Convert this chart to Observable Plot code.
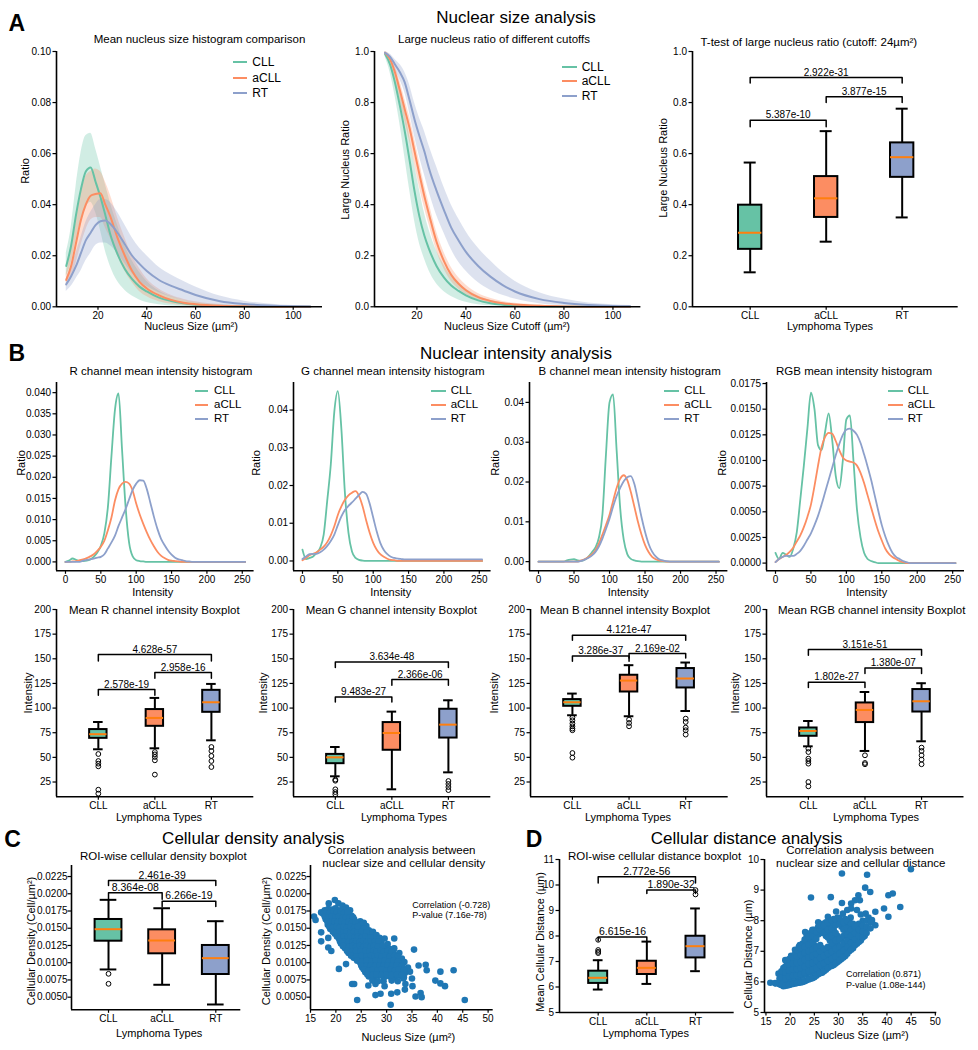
<!DOCTYPE html>
<html><head><meta charset="utf-8">
<script src="https://cdn.jsdelivr.net/npm/d3@7"></script>
<script src="https://cdn.jsdelivr.net/npm/@observablehq/plot@0.6"></script>
<style>
body{margin:0;background:#fff;}
#fig{position:relative;width:978px;height:1050px;font-family:"Liberation Sans",Arial,sans-serif;color:#000;overflow:hidden;background:#fff;}
.t{position:absolute;white-space:nowrap;transform:translate(-50%,-50%);line-height:1;}
.p{position:absolute;}
.p svg{overflow:visible;max-width:none;}
</style></head><body><div id="fig"></div>
<script>
const FONT = '"Liberation Sans", Arial, sans-serif';
const types = ["CLL", "aCLL", "RT"];
const colors = ["#66c2a5", "#fc8d62", "#8da0cb"];
const medianColor = "#ff7f0e";
const dotColor = "#1f77b4";

// ---------- A: nucleus size curves ----------
const sizeGrid = [7,9,11,13,15,17,19,21,23,25,28,31,34,37,40,45,50,55,60,70,80,90,100,107];
const histCLL = [0.016,0.024,0.036,0.046,0.053,0.0546,0.049,0.043,0.036,0.0285,0.0206,0.0148,0.0108,0.0079,0.006,0.0036,0.0023,0.0014,0.0008,0.0003,0.0001,0,0,0];
const histCLLlo = [0.012,0.017,0.026,0.034,0.039,0.041,0.037,0.030,0.022,0.016,0.010,0.0065,0.0042,0.0027,0.0017,0.0008,0.0003,0.0001,0,0,0,0,0,0];
const histCLLhi = [0.021,0.031,0.047,0.060,0.067,0.068,0.062,0.055,0.048,0.041,0.032,0.024,0.018,0.0135,0.010,0.0062,0.0040,0.0025,0.0016,0.0007,0.0003,0.0001,0,0];
const histACLL = [0.0105,0.016,0.025,0.034,0.040,0.0435,0.0442,0.0445,0.040,0.0355,0.027,0.020,0.014,0.0098,0.0072,0.0045,0.0027,0.0016,0.0010,0.0004,0.0002,0.0001,0,0];
const histACLLlo = [0.008,0.011,0.017,0.024,0.030,0.034,0.035,0.035,0.031,0.027,0.020,0.014,0.0095,0.006,0.004,0.002,0.001,0.0005,0.0002,0,0,0,0,0];
const histACLLhi = [0.013,0.022,0.033,0.044,0.051,0.053,0.054,0.053,0.049,0.044,0.035,0.027,0.020,0.015,0.011,0.007,0.0045,0.003,0.002,0.0009,0.0004,0.0002,0.0001,0];
const histRT = [0.0088,0.012,0.016,0.021,0.026,0.029,0.032,0.0335,0.0338,0.0325,0.029,0.0245,0.020,0.0168,0.014,0.0105,0.0082,0.0064,0.0046,0.0022,0.0011,0.0005,0.0002,0.0001];
const histRTlo = [0.006,0.008,0.011,0.014,0.018,0.021,0.024,0.025,0.025,0.024,0.021,0.017,0.013,0.010,0.008,0.0055,0.0038,0.0025,0.0015,0.0006,0.0002,0.0001,0,0];
const histRThi = [0.011,0.016,0.021,0.027,0.033,0.037,0.040,0.042,0.042,0.041,0.037,0.032,0.027,0.023,0.020,0.0155,0.0125,0.010,0.0078,0.0042,0.0022,0.0011,0.0005,0.0003];

const ratioCLL = [0.99,0.95,0.88,0.79,0.69,0.575,0.455,0.355,0.28,0.225,0.16,0.115,0.083,0.062,0.045,0.025,0.014,0.008,0.004,0.0015,0.0005,0,0,0];
const ratioCLLlo = [0.98,0.92,0.83,0.72,0.59,0.46,0.34,0.25,0.19,0.14,0.09,0.06,0.04,0.027,0.018,0.008,0.004,0.002,0.001,0,0,0,0,0];
const ratioCLLhi = [1.0,0.97,0.92,0.85,0.77,0.67,0.56,0.46,0.37,0.30,0.22,0.165,0.12,0.09,0.07,0.042,0.025,0.016,0.01,0.005,0.003,0.002,0.001,0.001];
const ratioACLL = [0.995,0.97,0.92,0.85,0.775,0.70,0.61,0.52,0.435,0.36,0.255,0.18,0.125,0.09,0.065,0.038,0.023,0.014,0.009,0.004,0.0015,0.0005,0.0002,0];
const ratioACLLlo = [0.99,0.95,0.89,0.81,0.73,0.65,0.56,0.47,0.39,0.32,0.22,0.15,0.10,0.07,0.048,0.026,0.015,0.008,0.005,0.002,0.0005,0,0,0];
const ratioACLLhi = [1.0,0.985,0.945,0.885,0.815,0.745,0.66,0.57,0.48,0.405,0.295,0.215,0.155,0.115,0.085,0.052,0.033,0.021,0.014,0.007,0.003,0.001,0.0005,0.0002];
const ratioRT = [0.995,0.98,0.95,0.92,0.88,0.81,0.735,0.67,0.61,0.54,0.455,0.38,0.31,0.26,0.215,0.16,0.118,0.085,0.06,0.03,0.015,0.007,0.003,0.002];
const ratioRTlo = [0.99,0.97,0.93,0.89,0.84,0.76,0.67,0.59,0.52,0.45,0.36,0.29,0.225,0.175,0.14,0.095,0.065,0.045,0.03,0.012,0.005,0.002,0.001,0];
const ratioRThi = [1.0,0.99,0.97,0.95,0.92,0.87,0.80,0.74,0.69,0.63,0.55,0.47,0.40,0.345,0.295,0.23,0.18,0.135,0.10,0.055,0.03,0.015,0.008,0.005];

// A3 boxplot: [whisker low, q1, median, q3, whisker high]
const ttestStats = [[0.135,0.225,0.290,0.398,0.565],[0.255,0.350,0.425,0.510,0.688],[0.350,0.507,0.586,0.642,0.776]];
const ttestOutliers = [[],[],[]];
const ttestBrackets = [[0,1,0.731,0.705,"5.387e-10"],[1,2,0.823,0.800,"3.877e-15"],[0,2,0.898,0.877,"2.922e-31"]];

// ---------- B: intensity histograms ----------
const intGrid = [0,5,10,15,20,25,30,35,40,45,50,55,60,65,70,75,80,85,90,95,100,105,110,115,120,125,130,135,140,145,150,155,160,165,170,175,180,185,190,195,200,254];
const rCLL = [0,0.0003,0.0008,0.0005,0.0002,0.0002,0.0003,0.0006,0.0012,0.0022,0.0038,0.0068,0.013,0.025,0.036,0.0398,0.0265,0.013,0.0045,0.0013,0.0004,0.0002,0.0001,0,0,0,0,0,0,0,0,0,0,0,0,0,0,0,0,0,0,0];
const rACLL = [0,0,0.0001,0.0002,0.0004,0.0006,0.0009,0.0013,0.0018,0.0026,0.0036,0.005,0.0075,0.0105,0.0145,0.0172,0.0185,0.0189,0.0185,0.0168,0.0138,0.0112,0.009,0.007,0.0052,0.0037,0.0024,0.0015,0.0009,0.0005,0.0003,0.0002,0.0001,0,0,0,0,0,0,0,0,0];
const rRT = [0,0,0,0,0,0.0003,0.0005,0.0006,0.0008,0.001,0.0012,0.0018,0.0032,0.0046,0.0062,0.0085,0.0105,0.0125,0.0148,0.017,0.0185,0.0193,0.0192,0.0172,0.014,0.0107,0.0078,0.0055,0.004,0.0027,0.0017,0.001,0.0006,0.0004,0.0002,0.0001,0,0,0,0,0,0];
const gCLL = [0.003,0.0005,0.0008,0.0012,0.0022,0.0035,0.007,0.016,0.0255,0.0395,0.045,0.035,0.018,0.0075,0.0025,0.0008,0.0003,0.0001,0,0,0,0,0,0,0,0,0,0,0,0,0,0,0,0,0,0,0,0,0,0,0,0];
const gACLL = [0.0002,0.0008,0.0015,0.0019,0.0023,0.003,0.0038,0.005,0.0068,0.0092,0.0122,0.0145,0.0162,0.0174,0.0181,0.0185,0.0172,0.0145,0.0108,0.0075,0.0048,0.003,0.0018,0.0011,0.0006,0.0003,0.0002,0,0,0,0,0,0,0,0,0,0,0,0,0,0,0];
const gRT = [0.0005,0.0012,0.0018,0.0019,0.0019,0.0023,0.003,0.004,0.0053,0.007,0.0095,0.0118,0.0135,0.0146,0.0155,0.0165,0.0175,0.0183,0.0178,0.0152,0.0115,0.0078,0.0048,0.0029,0.0018,0.0011,0.0008,0.0006,0.0005,0.0004,0.0004,0.0004,0.0004,0.0004,0.0004,0.0004,0.0004,0.0004,0.0004,0.0004,0.0004,0.0004];
const bCLL = [0,0,0,0,0,0,0,0,0.0003,0.0005,0.0006,0.0003,0.0002,0.0005,0.0012,0.0023,0.0035,0.006,0.0118,0.027,0.040,0.042,0.028,0.0135,0.0055,0.0019,0.0007,0.0003,0.0001,0,0,0,0,0,0,0,0,0,0,0,0,0];
const bACLL = [0,0,0,0,0,0,0,0,0,0,0,0,0.0003,0.0006,0.0011,0.0018,0.0028,0.0045,0.0068,0.0092,0.0118,0.0152,0.0185,0.0208,0.0217,0.0205,0.0175,0.0138,0.01,0.0068,0.0042,0.0024,0.0012,0.0006,0.0003,0.0001,0,0,0,0,0,0];
const bRT = [0,0,0,0,0,0,0,0,0,0,0,0,0.0002,0.0005,0.0009,0.0015,0.0024,0.0038,0.0058,0.0082,0.0108,0.0138,0.0165,0.0185,0.0202,0.0212,0.0215,0.0195,0.0155,0.0112,0.0075,0.0045,0.0025,0.0013,0.0006,0.0003,0.0001,0,0,0,0,0];
const rgbCLL = [0.001,0.0004,0.001,0.0008,0.0006,0.0014,0.003,0.0062,0.0095,0.0131,0.0166,0.015,0.0115,0.011,0.0128,0.0146,0.012,0.0085,0.0073,0.01,0.014,0.0144,0.01,0.0052,0.0025,0.001,0.0004,0.0002,0.0001,0,0,0,0,0,0,0,0,0,0,0,0,0];
const rgbACLL = [0.0001,0.0004,0.0006,0.0008,0.0011,0.0015,0.0021,0.0027,0.0035,0.0045,0.0057,0.0075,0.0095,0.0113,0.0123,0.0127,0.0126,0.0119,0.011,0.0103,0.01,0.0099,0.0098,0.0095,0.0088,0.0078,0.0066,0.0054,0.0042,0.0031,0.0022,0.0014,0.0009,0.0006,0.0004,0.0002,0.0001,0,0,0,0,0];
const rgbRT = [0.0001,0.0004,0.0006,0.0007,0.0007,0.0007,0.0009,0.0012,0.0017,0.0023,0.0029,0.0037,0.0046,0.0057,0.0069,0.0081,0.0093,0.0105,0.0116,0.0125,0.013,0.0131,0.0129,0.0125,0.0117,0.0106,0.0094,0.0081,0.0066,0.0051,0.0037,0.0026,0.0017,0.001,0.0006,0.0004,0.0002,0.0001,0,0,0,0];

// B boxplots
const rStats = [[58.2,69.3,73.5,78.2,85.9],[59.2,81.5,90,98.5,110.3],[67.3,95.7,105.9,118,124.5]];
const rOutliers = [[53.4,46.3,43.6,40.9,17.2,13.2],[55.4,53,50.4,47,32.5],[60.5,56.5,51.4,46.3,40.2]];
const rBrackets = [[0,1,118.8,113,"2.578e-19"],[1,2,136,130.3,"2.958e-16"],[0,2,154.3,147.8,"4.628e-57"]];
const gStats = [[30.8,43.6,50,53,60.5],[17.6,57.2,74.7,85.3,96.4],[34.8,69.6,83.2,98.8,107.9]];
const gOutliers = [[27.4,26.3,17.6,14.8,12.5],[],[26,23,19.9,16.8]];
const gBrackets = [[0,1,111.3,106.2,"9.483e-27"],[1,2,128.9,123.1,"2.366e-06"],[0,2,146.8,141.1,"3.634e-48"]];
const bStats = [[92.7,101.8,105.9,108.6,114.7],[91.7,116.3,127.9,133.3,143.5],[97,120.4,130,140.1,146.2]];
const bOutliers = [[90.3,87.6,84.3,81.5,79.2,77.5,54.4,49.7],[88.3,84.9,81.5],[89.3,85.9,80.2,77.5,73.1]];
const bBrackets = [[0,1,152.9,147.5,"3.286e-37"],[1,2,155.3,150.9,"2.169e-02"],[0,2,173.9,168.8,"4.121e-47"]];
const rgbStats = [[61.2,71.4,76.8,79.8,86.9],[56.5,85.3,98.1,105.2,116.3],[66.3,96,106.9,118.8,125.2]];
const rgbOutliers = [[58.9,55.4,48.7,46.3,43.6,25,20.6],[52.1,44.3,43],[59.9,56.5,52.1,47.7,43]];
const rgbBrackets = [[0,1,126.2,120.8,"1.802e-27"],[1,2,140.7,135,"1.380e-07"],[0,2,159.4,153.6,"3.151e-51"]];

// ---------- C / D ----------
const densStats = [[0.00902,0.01312,0.01486,0.01627,0.01912],[0.0068,0.01129,0.01322,0.01477,0.0179],[0.00394,0.00829,0.01066,0.0125,0.01602]];
const densOutliers = [[0.00839,0.00694],[],[]];
const densBrackets = [[0,1,0.02014,0.01921,"8.364e-08"],[1,2,0.01892,0.01815,"6.266e-19"],[0,2,0.02192,0.0212,"2.461e-39"]];
const distStats = [[5.9,6.14,6.36,6.62,7.05],[6.12,6.49,6.75,7.01,7.78],[6.62,7.14,7.6,7.99,9.08]];
const distOutliers = [[7.85,7.45,7.38,7.33],[],[9.8,9.63]];
const distBrackets = [[0,1,7.96,7.8,"6.615e-16"],[1,2,9.8,9.67,"1.890e-32"],[0,2,10.32,10.08,"2.772e-56"]];

// nucleus size vs cellular density (µm², cell/µm²)
const densityPoints = [
[15.7,0.0167],[16.0,0.0162],[17.1,0.0173],[18.6,0.0186],[19.8,0.0191],[17.1,0.0144],[18.5,0.0136],[17.1,0.0131],[18.5,0.0122],[19.1,0.0117],
[20.6,0.0091],[22.0,0.0098],[23.2,0.0069],[23.6,0.0069],[24.2,0.0046],[26.4,0.0067],[27.8,0.0069],[27.8,0.0053],[28.8,0.0055],[30.8,0.0039],
[30.9,0.0055],[29.6,0.0066],[29.4,0.0073],[31.1,0.0079],[32.1,0.0057],[33.6,0.0061],[33.7,0.0069],[35.1,0.0066],[33.3,0.0077],[35.0,0.0077],
[35.7,0.0051],[36.7,0.0056],[36.9,0.005],[35.4,0.0119],[36.3,0.0096],[37.7,0.0097],[37.9,0.0089],[39.6,0.0074],[40.6,0.007],[41.5,0.0066],
[40.6,0.0087],[43.2,0.0089],[45.4,0.0046],[31.5,0.0135],[31.4,0.012],
[20.5,0.0186],[21.3,0.0183],[22.0,0.0180],
[17.8,0.0176],[18.5,0.0178],[19.2,0.0177],[19.9,0.0179],[20.6,0.0176],[21.4,0.0177],[22.1,0.0175],[22.8,0.0176],
[17.5,0.0171],[18.2,0.0169],[18.9,0.0171],[19.6,0.017],[20.3,0.0169],[21.0,0.0171],[21.7,0.0169],[22.4,0.017],[23.1,0.0168],
[18.0,0.0163],[18.7,0.0162],[19.4,0.0164],[20.1,0.0162],[20.8,0.0163],[21.5,0.0161],[22.2,0.0163],[22.9,0.0162],[23.6,0.0163],[24.8,0.016],[25.5,0.0158],
[18.4,0.0155],[19.1,0.0157],[19.8,0.0155],[20.5,0.0156],[21.2,0.0155],[21.9,0.0157],[22.6,0.0155],[23.3,0.0156],[24.0,0.0154],[25.0,0.0155],[26.0,0.0153],
[18.9,0.0149],[19.6,0.0148],[20.3,0.015],[21.0,0.0148],[21.7,0.0149],[22.4,0.0148],[23.1,0.015],[23.8,0.0148],[24.5,0.0149],[26.5,0.0147],[27.3,0.0145],
[19.8,0.0142],[20.5,0.0141],[21.2,0.0143],[21.9,0.0141],[22.6,0.0142],[23.3,0.0141],[24.0,0.0143],[24.7,0.0141],[25.4,0.0142],[27.0,0.0141],[28.0,0.014],
[20.6,0.0135],[21.3,0.0134],[22.0,0.0136],[22.7,0.0134],[23.4,0.0135],[24.1,0.0134],[24.8,0.0136],[25.5,0.0134],[26.2,0.0135],[27.6,0.0134],[28.6,0.0136],[29.6,0.0135],
[21.0,0.0128],[22.3,0.0127],[23.0,0.0129],[23.7,0.0127],[24.4,0.0128],[25.1,0.0127],[25.8,0.0129],[26.5,0.0127],[27.2,0.0128],[28.0,0.0127],[29.0,0.0129],[30.2,0.0127],
[21.8,0.0121],[22.9,0.012],[23.6,0.0122],[24.3,0.012],[25.0,0.0121],[25.7,0.012],[26.4,0.0122],[27.1,0.012],[27.8,0.0121],[28.6,0.012],[29.4,0.0122],[30.5,0.012],[31.5,0.0121],
[22.5,0.0114],[23.4,0.0113],[24.5,0.0115],[25.4,0.0113],[26.3,0.0114],[27.0,0.0113],[27.7,0.0115],[28.4,0.0113],[29.1,0.0114],[29.8,0.0113],[30.6,0.0115],[31.4,0.0113],[32.5,0.0114],
[23.5,0.0107],[24.6,0.0106],[25.6,0.0108],[26.5,0.0106],[27.3,0.0107],[28.0,0.0106],[28.7,0.0108],[29.4,0.0106],[30.2,0.0107],[31.0,0.0106],[31.9,0.0108],[33.0,0.0106],
[24.8,0.01],[25.8,0.0099],[26.7,0.0101],[27.5,0.0099],[28.4,0.01],[29.2,0.0099],[30.0,0.0101],[30.8,0.0099],[31.7,0.01],[32.6,0.0099],[33.5,0.0101],
[25.2,0.0093],[26.2,0.0092],[27.0,0.0094],[27.8,0.0092],[28.7,0.0093],[29.6,0.0092],[30.4,0.0094],[31.2,0.0092],[32.0,0.0093],[33.0,0.0092],[34.2,0.0093],
[25.8,0.0086],[26.8,0.0085],[27.6,0.0087],[28.5,0.0085],[29.4,0.0086],[30.3,0.0085],[31.0,0.0087],[31.8,0.0085],[32.7,0.0086],[33.6,0.0085],[34.6,0.0087],
[26.5,0.008],[27.5,0.0079],[28.5,0.0081],[29.5,0.0079],[30.6,0.008],[31.6,0.0079],[32.5,0.0081],[33.4,0.0079],
[27.2,0.0074],[28.3,0.0073],[31.0,0.0074],[32.2,0.0073],
[18.1,0.0174],[18.8,0.0173],[19.5,0.0174],[20.2,0.0173],[20.9,0.0174],[21.6,0.0172],[22.3,0.0173],
[17.8,0.0167],[18.5,0.0166],[19.2,0.0167],[19.9,0.0166],[20.6,0.0167],[21.3,0.0165],[22.0,0.0166],[22.7,0.0165],[23.4,0.0166],
[18.3,0.016],[19.0,0.0159],[19.7,0.016],[20.4,0.0159],[21.1,0.016],[21.8,0.0158],[22.5,0.0159],[23.2,0.0158],[23.9,0.0159],
[18.7,0.0152],[19.4,0.0151],[20.1,0.0152],[20.8,0.0151],[21.5,0.0152],[22.2,0.0151],[22.9,0.0152],[23.6,0.0151],[24.3,0.0152],[25.5,0.015],
[19.4,0.0145],[20.1,0.0144],[20.8,0.0145],[21.5,0.0144],[22.2,0.0145],[22.9,0.0144],[23.6,0.0145],[24.3,0.0144],[25.0,0.0145],[26.0,0.0144],
[20.2,0.0138],[20.9,0.0137],[21.6,0.0138],[22.3,0.0137],[23.0,0.0138],[23.7,0.0137],[24.4,0.0138],[25.1,0.0137],[25.8,0.0138],[26.8,0.0137],
[20.8,0.0131],[21.6,0.013],[22.6,0.0131],[23.3,0.013],[24.0,0.0131],[24.7,0.013],[25.4,0.0131],[26.1,0.013],[26.8,0.0131],[27.6,0.013],[28.4,0.0131],
[21.4,0.0124],[22.6,0.0123],[23.3,0.0124],[24.0,0.0123],[24.7,0.0124],[25.4,0.0123],[26.1,0.0124],[26.8,0.0123],[27.5,0.0124],[28.3,0.0123],[29.2,0.0124],
[22.2,0.0117],[23.2,0.0116],[24.0,0.0117],[24.9,0.0116],[25.8,0.0117],[26.6,0.0116],[27.4,0.0117],[28.1,0.0116],[28.8,0.0117],[29.5,0.0116],[30.2,0.0117],[31.0,0.0116],
[23.0,0.011],[24.0,0.0109],[25.0,0.011],[26.0,0.0109],[26.9,0.011],[27.6,0.0109],[28.3,0.011],[29.0,0.0109],[29.8,0.011],[30.6,0.0109],[31.5,0.011],[32.2,0.0109],
[24.2,0.0103],[25.2,0.0102],[26.1,0.0103],[27.0,0.0102],[27.9,0.0103],[28.8,0.0102],[29.6,0.0103],[30.5,0.0102],[31.4,0.0103],[32.2,0.0102],
[25.0,0.0096],[26.0,0.0095],[26.9,0.0096],[27.7,0.0095],[28.6,0.0096],[29.4,0.0095],[30.2,0.0096],[31.1,0.0095],[32.0,0.0096],[33.0,0.0095],
[25.5,0.009],[26.5,0.0089],[27.3,0.009],[28.2,0.0089],[29.1,0.009],[30.0,0.0089],[30.8,0.009],[31.6,0.0089],[32.4,0.009],[33.4,0.0089],
[26.2,0.0083],[27.2,0.0082],[28.0,0.0083],[29.0,0.0082],[30.0,0.0083],[31.0,0.0082],[32.0,0.0083],[33.0,0.0082]
];

// nucleus size vs cellular distance (µm², µm)
const distancePoints = [
[30.7,9.54],[35.9,9.5],[44.95,9.68],[24.3,8.76],[28.4,8.77],[30.7,8.58],[27.8,8.13],[30.9,8.23],[35.5,9.08],[36.55,8.94],
[34.1,8.83],[34.4,8.67],[33.4,8.67],[32.6,8.56],[32.6,8.4],[40.3,8.83],[41.2,8.89],[42.75,8.45],[39.4,8.4],[40.3,8.13],
[37.6,8.29],[37.6,7.85],[36.9,7.96],[35.6,8.23],[36.2,8.1],[36.9,8.02],[34.6,8.2],[33.8,8.35],[35.0,8.0],[34.2,7.9],
[15.9,5.97],[16.9,5.96],[17.6,6.27],[19.0,6.71],[18.8,6.44],[20.7,6.82],[23.1,7.63],[24.8,7.68],[25.8,7.95],[26.8,7.9],
[22.0,7.2],[21.0,7.05],[29.5,8.3],[31.8,8.35],[32.5,8.1],
[17.0,5.95],[17.8,5.92],[17.8,6.1],
[18.6,5.86],[18.6,6.05],[18.6,6.25],[18.6,6.45],
[19.4,5.88],[19.4,6.05],[19.4,6.22],[19.4,6.4],[19.4,6.6],
[20.2,5.92],[20.2,6.1],[20.2,6.28],[20.2,6.46],[20.2,6.66],[20.2,6.85],
[21.0,5.95],[21.0,6.12],[21.0,6.3],[21.0,6.5],[21.0,6.7],[21.0,6.9],
[21.8,5.97],[21.8,6.15],[21.8,6.35],[21.8,6.55],[21.8,6.75],[21.8,6.95],[21.8,7.15],
[22.6,6.0],[22.6,6.2],[22.6,6.4],[22.6,6.6],[22.6,6.8],[22.6,7.0],[22.6,7.25],
[23.4,6.05],[23.4,6.25],[23.4,6.45],[23.4,6.65],[23.4,6.85],[23.4,7.05],[23.4,7.3],[23.4,7.5],
[24.2,6.1],[24.2,6.3],[24.2,6.5],[24.2,6.7],[24.2,6.9],[24.2,7.1],[24.2,7.35],[24.2,7.6],
[25.0,6.15],[25.0,6.35],[25.0,6.55],[25.0,6.75],[25.0,6.95],[25.0,7.2],[25.0,7.45],[25.0,7.7],
[25.8,6.25],[25.8,6.45],[25.8,6.65],[25.8,6.85],[25.8,7.05],[25.8,7.55],[25.8,7.8],
[26.6,6.3],[26.6,6.5],[26.6,6.7],[26.6,6.9],[26.6,7.1],[26.6,7.6],[26.6,7.85],
[27.4,6.4],[27.4,6.6],[27.4,6.8],[27.4,7.0],[27.4,7.5],[27.4,7.75],[27.4,7.95],
[28.2,6.5],[28.2,6.7],[28.2,6.9],[28.2,7.1],[28.2,7.35],[28.2,7.6],[28.2,7.85],[28.2,8.0],
[29.0,6.55],[29.0,6.75],[29.0,6.95],[29.0,7.2],[29.0,7.45],[29.0,7.7],[29.0,7.9],[29.0,8.05],
[29.8,6.65],[29.8,6.85],[29.8,7.05],[29.8,7.3],[29.8,7.5],[29.8,7.95],[29.8,8.1],
[30.6,6.75],[30.6,6.95],[30.6,7.15],[30.6,7.4],[30.6,7.8],[30.6,8.0],
[31.4,6.85],[31.4,7.05],[31.4,7.25],[31.4,7.5],[31.4,7.7],[31.4,7.9],[31.4,8.05],
[32.2,7.0],[32.2,7.2],[32.2,7.4],[32.2,7.6],[32.2,7.8],[32.2,7.95],
[33.0,7.1],[33.0,7.3],[33.0,7.5],[33.0,7.7],[33.0,7.9],
[33.8,7.25],[33.8,7.45],[33.8,7.65],[33.8,7.85],
[34.6,7.35],[34.6,7.55],[34.6,7.75],
[35.4,7.5],[35.4,7.7],
[18.2,5.9],[18.2,6.15],[18.2,6.35],
[19.0,5.87],[19.0,6.12],[19.0,6.3],[19.0,6.5],
[19.8,5.9],[19.8,6.18],[19.8,6.37],[19.8,6.56],[19.8,6.75],
[20.6,5.93],[20.6,6.2],[20.6,6.4],[20.6,6.6],[20.6,6.8],
[21.4,5.96],[21.4,6.22],[21.4,6.42],[21.4,6.62],[21.4,6.82],[21.4,7.02],
[22.2,5.98],[22.2,6.25],[22.2,6.45],[22.2,6.65],[22.2,6.88],[22.2,7.1],
[23.0,6.02],[23.0,6.3],[23.0,6.5],[23.0,6.72],[23.0,6.95],[23.0,7.15],[23.0,7.38],
[23.8,6.08],[23.8,6.35],[23.8,6.58],[23.8,6.8],[23.8,7.0],[23.8,7.22],[23.8,7.48],
[24.6,6.12],[24.6,6.4],[24.6,6.62],[24.6,6.85],[24.6,7.05],[24.6,7.28],[24.6,7.52],[24.6,7.7],
[25.4,6.2],[25.4,6.45],[25.4,6.7],[25.4,6.9],[25.4,7.12],[25.4,7.4],[25.4,7.65],
[26.2,6.28],[26.2,6.55],[26.2,6.78],[26.2,7.0],[26.2,7.2],[26.2,7.7],[26.2,7.85],
[27.0,6.35],[27.0,6.6],[27.0,6.85],[27.0,7.08],[27.0,7.6],[27.0,7.85],
[27.8,6.45],[27.8,6.68],[27.8,6.92],[27.8,7.15],[27.8,7.45],[27.8,7.7],[27.8,7.95],
[28.6,6.52],[28.6,6.75],[28.6,7.0],[28.6,7.25],[28.6,7.5],[28.6,7.75],[28.6,8.0],
[29.4,6.6],[29.4,6.82],[29.4,7.08],[29.4,7.35],[29.4,7.6],[29.4,7.85],[29.4,8.05],
[30.2,6.7],[30.2,6.92],[30.2,7.15],[30.2,7.4],[30.2,7.9],[30.2,8.08],
[31.0,6.8],[31.0,7.02],[31.0,7.25],[31.0,7.5],[31.0,7.7],[31.0,7.95],
[31.8,6.92],[31.8,7.15],[31.8,7.35],[31.8,7.55],[31.8,7.75],[31.8,7.98],
[32.6,7.05],[32.6,7.28],[32.6,7.5],[32.6,7.7],[32.6,7.9],
[33.4,7.2],[33.4,7.4],[33.4,7.6],[33.4,7.8],
[34.2,7.3],[34.2,7.5],[34.2,7.7],
[35.0,7.45],[35.0,7.65],[35.0,7.85],
[35.8,7.6],[35.8,7.8],[35.8,8.0],
[36.6,7.75],[36.6,7.95]
];

// tick labels
const sizeTicks = [20,40,60,80,100];
const histRatioTicks = [0,0.02,0.04,0.06,0.08,0.10];
const unitTicks = [0,0.2,0.4,0.6,0.8,1.0];
const intensityTicks = [0,50,100,150,200,250];
const rRatioTicks = [0,0.005,0.01,0.015,0.02,0.025,0.03,0.035,0.04];
const gbRatioTicks = [0,0.01,0.02,0.03,0.04];
const rgbRatioTicks = [0,0.0025,0.005,0.0075,0.01,0.0125,0.015,0.0175];
const boxIntensityTicks = [25,50,75,100,125,150,175,200];
const densityTicks = [0.005,0.0075,0.01,0.0125,0.015,0.0175,0.02,0.0225];
const distBoxTicks = [5,6,7,8,9,10,11];
const distScatterTicks = [5,6,7,8,9,10];
const nucleusTicks = [15,20,25,30,35,40,45,50];

// ---------- helpers ----------
const fig = document.getElementById("fig");
function label(s, x, y, size, o = {}) {
  const d = document.createElement("div");
  d.className = "t";
  d.textContent = s;
  Object.assign(d.style, {left: x + "px", top: y + "px", fontSize: size + "px"});
  if (o.bold) d.style.fontWeight = "bold";
  if (o.rot) d.style.transform = "translate(-50%,-50%) rotate(-90deg)";
  if (o.left) d.style.transform = "translate(0,-50%)";
  fig.appendChild(d);
}
function legend(x0, x1, tx, ys, size) {
  types.forEach((t, k) => {
    const sw = document.createElement("div");
    Object.assign(sw.style, {position: "absolute", left: x0 + "px", top: (ys[k] - 1.2) + "px", width: (x1 - x0) + "px", height: "2.4px", background: colors[k]});
    fig.appendChild(sw);
    label(t, tx, ys[k], size, {left: true});
  });
}
const M = {l: 48, r: 10, t: 10, b: 26};
function chart(frame, xd, yd, xt, xf, yt, yf, marks, ypad = 2) {
  const [x0, y0, x1, y1] = frame;
  const svg = Plot.plot({
    width: x1 - x0 + M.l + M.r, height: y1 - y0 + M.t + M.b,
    marginLeft: M.l, marginRight: M.r, marginTop: M.t, marginBottom: M.b,
    style: {fontSize: "10px", fontFamily: FONT, color: "#000", background: "transparent", overflow: "visible"},
    x: {domain: xd, label: null},
    y: {domain: yd, label: null},
    color: {type: "identity"},
    marks: [
      ...marks,
      Plot.axisX(xt, {tickFormat: xf, tickSize: 3.5, tickPadding: 2, strokeWidth: 1.2, label: null}),
      Plot.axisY(yt, {tickFormat: yf, tickSize: 3.5, tickPadding: ypad, strokeWidth: 1.2, label: null}),
      Plot.ruleX([xd[0]], {strokeWidth: 1.6}),
      Plot.ruleY([yd[0]], {strokeWidth: 1.6})
    ]
  });
  const d = document.createElement("div");
  d.className = "p";
  d.style.left = (x0 - M.l) + "px";
  d.style.top = (y0 - M.t) + "px";
  d.appendChild(svg);
  fig.appendChild(d);
}
function seriesRows(grid, means, los, his) {
  return means.flatMap((m, k) => grid.map((x, i) => ({x, y: m[i], lo: los ? los[k][i] : 0, hi: his ? his[k][i] : 0, k, c: colors[k]})));
}
function curveMarks(rows, band, sw) {
  const ms = [];
  if (band) ms.push(Plot.areaY(rows, {x: "x", y1: "lo", y2: "hi", z: "k", fill: "c", fillOpacity: 0.3, curve: "monotone-x"}));
  ms.push(Plot.line(rows, {x: "x", y: "y", z: "k", stroke: "c", strokeWidth: sw, curve: "monotone-x"}));
  return ms;
}
function boxMarks(stats, outl, brs, bw, cap, fs) {
  const rows = stats.map((s, i) => ({i, lo: s[0], q1: s[1], med: s[2], q3: s[3], hi: s[4], c: colors[i]}));
  const outs = outl.flatMap((a, i) => a.map(v => ({i, v})));
  const lines = brs.flatMap((b, j) => [[b[0], b[3]], [b[0], b[2]], [b[1], b[2]], [b[1], b[3]]].map(([x, y]) => ({j, x, y})));
  return [
    Plot.ruleX(rows, {x: "i", y1: "lo", y2: "q1", strokeWidth: 2}),
    Plot.ruleX(rows, {x: "i", y1: "q3", y2: "hi", strokeWidth: 2}),
    Plot.ruleY(rows, {y: "lo", x1: d => d.i - cap / 2, x2: d => d.i + cap / 2, strokeWidth: 2}),
    Plot.ruleY(rows, {y: "hi", x1: d => d.i - cap / 2, x2: d => d.i + cap / 2, strokeWidth: 2}),
    Plot.rect(rows, {x1: d => d.i - bw / 2, x2: d => d.i + bw / 2, y1: "q1", y2: "q3", fill: "c", stroke: "#000", strokeWidth: 2}),
    Plot.ruleY(rows, {y: "med", x1: d => d.i - bw / 2, x2: d => d.i + bw / 2, stroke: medianColor, strokeWidth: 2}),
    Plot.dot(outs, {x: "i", y: "v", r: 2.4, stroke: "#000", strokeWidth: 1, fill: "none"}),
    Plot.line(lines, {x: "x", y: "y", z: "j", strokeWidth: 1.5}),
    Plot.text(brs, {x: b => (b[0] + b[1]) / 2, y: b => b[2], text: b => b[4], lineAnchor: "bottom", dy: -2, fontSize: fs})
  ];
}
const catFmt = i => types[i];
const f2 = d3.format(".2f"), f1 = d3.format(".1f"), f3 = d3.format(".3f"), f4 = d3.format(".4f"), fi = d3.format("d");

// ---------- A ----------
label("A", 16.7, 23.3, 23, {bold: true});
label("Nuclear size analysis", 516, 17, 17);
label("Mean nucleus size histogram comparison", 199.5, 40, 11.5);
label("Large nucleus ratio of different cutoffs", 494, 40, 11.5);
label("T-test of large nucleus ratio (cutoff: 24µm²)", 808.8, 43.3, 11.5);

chart([56, 50.7, 322, 306], [3, 112], [0, 0.1], sizeTicks, fi, histRatioTicks, f2,
  curveMarks(seriesRows(sizeGrid, [histCLL, histACLL, histRT], [histCLLlo, histACLLlo, histRTlo], [histCLLhi, histACLLhi, histRThi]), true, 2));
chart([374.3, 50.7, 640.7, 306], [2.7, 111.4], [0, 1], sizeTicks, fi, unitTicks, f1,
  curveMarks(seriesRows(sizeGrid, [ratioCLL, ratioACLL, ratioRT], [ratioCLLlo, ratioACLLlo, ratioRTlo], [ratioCLLhi, ratioACLLhi, ratioRThi]), true, 2));
chart([692.3, 50.7, 958, 306], [-0.759, 2.737], [0, 1], [0, 1, 2], catFmt, unitTicks, f1,
  boxMarks(ttestStats, ttestOutliers, ttestBrackets, 0.307, 0.158, 10));

label("Ratio", 25, 171, 11, {rot: true});
label("Large Nucleus Ratio", 345, 170, 11, {rot: true});
label("Large Nucleus Ratio", 663, 168, 11, {rot: true});
label("Nucleus Size (µm²)", 191, 326, 11);
label("Nucleus Size Cutoff (µm²)", 507, 326, 11);
label("Lymphoma Types", 830, 326, 11);
legend(232.7, 247.3, 252.3, [62.3, 78.3, 92.7], 12);
legend(561.7, 576.7, 581.7, [66.7, 81, 96], 12);

// ---------- B ----------
label("B", 16.7, 353.3, 23, {bold: true});
label("Nuclear intensity analysis", 516, 353, 17);
const histFrames = [[55.7, 381.7, 253.3, 570], [292.7, 381.7, 490.3, 570], [529.3, 381.7, 727.7, 570], [766, 381.7, 964, 570]];
const histSets = [[rCLL, rACLL, rRT], [gCLL, gACLL, gRT], [bCLL, bACLL, bRT], [rgbCLL, rgbACLL, rgbRT]];
const histYd = [[-0.0021, 0.0424], [-0.0026, 0.0473], [-0.0023, 0.045], [-0.00075, 0.0176]];
const histYt = [rRatioTicks, gbRatioTicks, gbRatioTicks, rgbRatioTicks];
const histYf = [f3, f2, f2, f4];
histFrames.forEach((fr, j) => chart(fr, [-12.7, 266.7], histYd[j], intensityTicks, fi, histYt[j], histYf[j],
  curveMarks(seriesRows(intGrid, histSets[j]), false, 1.8)));
const histTitles = ["R channel mean intensity histogram", "G channel mean intensity histogram", "B channel mean intensity histogram", "RGB mean intensity histogram"];
[161, 392.8, 629.7, 854].forEach((x, j) => label(histTitles[j], x, 372.3, 11.5));
[20.7, 256, 495, 722.3].forEach(x => label("Ratio", x, 462.7, 11, {rot: true}));
[152.7, 390.7, 628.3, 866.7].forEach(x => label("Intensity", x, 591.7, 11));
legend(195, 208.3, 214, [390.7, 405, 419.3], 11.5);
legend(431, 445.7, 450.7, [390.7, 405, 419.3], 11.5);
legend(664, 679, 684.3, [390.7, 405, 419.3], 11.5);
legend(887.7, 902.7, 907.7, [390.7, 405, 419.3], 11.5);

const boxFrames = [[56, 609.4, 253.3, 796.7], [292.7, 609.4, 490, 796.7], [530, 609.4, 727.7, 796.7], [766, 609.4, 963.5, 796.7]];
const boxSets = [[rStats, rOutliers, rBrackets], [gStats, gOutliers, gBrackets], [bStats, bOutliers, bBrackets], [rgbStats, rgbOutliers, rgbBrackets]];
boxFrames.forEach((fr, j) => chart(fr, [-0.74, 2.75], [10, 200], [0, 1, 2], catFmt, boxIntensityTicks, fi,
  boxMarks(boxSets[j][0], boxSets[j][1], boxSets[j][2], 0.308, 0.17, 10)));
const boxTitles = ["Mean R channel intensity Boxplot", "Mean G channel intensity Boxplot", "Mean B channel intensity Boxplot", "Mean RGB channel intensity Boxplot"];
[154.3, 391.3, 625, 871.7].forEach((x, j) => label(boxTitles[j], x, 611, 11.5));
[28.3, 263.3, 494, 735].forEach(x => label("Intensity", x, 693.3, 11, {rot: true}));
[159, 404, 628, 876].forEach(x => label("Lymphoma Types", x, 816.7, 11));

// ---------- C ----------
label("C", 12.5, 839, 23, {bold: true});
label("Cellular density analysis", 253.3, 837.5, 17);
label("ROI-wise cellular density boxplot", 163.3, 857.3, 11.5);
label("Correlation analysis between", 401.7, 850.7, 11.5);
label("nuclear size and cellular density", 403.8, 864, 11.5);
chart([70.7, 865, 240, 1009.3], [-0.69, 2.466], [0.00317, 0.0241], [0, 1, 2], catFmt, densityTicks, f4,
  boxMarks(densStats, densOutliers, densBrackets, 0.5, 0.31, 10.5), 0.5);
chart([310, 865, 492.7, 1009.3], [15, 51], [0.00317, 0.0241], nucleusTicks, fi, densityTicks, f4,
  [Plot.dot(densityPoints, {x: d => d[0], y: d => d[1], r: 3.3, fill: dotColor})], 0.5);
label("Cellular Density (Cell/µm²)", 30.5, 941.3, 11, {rot: true});
label("Cellular Density (Cell/µm²)", 265.5, 941, 11, {rot: true});
label("Lymphoma Types", 159.2, 1033.3, 11);
label("Nucleus Size (µm²)", 408.3, 1036.7, 11);
label("Correlation (-0.728)", 412.3, 905, 9, {left: true});
label("P-value (7.16e-78)", 412.3, 915, 9, {left: true});

// ---------- D ----------
label("D", 534, 839, 23, {bold: true});
label("Cellular distance analysis", 746.7, 837.5, 17);
label("ROI-wise cellular distance boxplot", 654.5, 857.3, 11.5);
label("Correlation analysis between", 860, 850.7, 11.5);
label("nuclear size and cellular distance", 860.8, 864, 11.5);
chart([559, 859.3, 733.7, 1012.3], [-0.795, 2.795], [5, 11], [0, 1, 2], catFmt, distBoxTicks, fi,
  boxMarks(distStats, distOutliers, distBrackets, 0.39, 0.2, 10.5));
chart([764.3, 859.3, 936.6, 1012.3], [14.7, 50.3], [5, 10], nucleusTicks, fi, distScatterTicks, fi,
  [Plot.dot(distancePoints, {x: d => d[0], y: d => d[1], r: 3.3, fill: dotColor})]);
label("Mean Cellular Distance (µm)", 540, 941.5, 11, {rot: true});
label("Cellular Distance (µm)", 748.3, 954, 11, {rot: true});
label("Lymphoma Types", 645.8, 1033.3, 11);
label("Nucleus Size (µm²)", 861.7, 1035, 11);
label("Correlation (0.871)", 846, 974, 9, {left: true});
label("P-value (1.08e-144)", 846, 985, 9, {left: true});
</script></body></html>
